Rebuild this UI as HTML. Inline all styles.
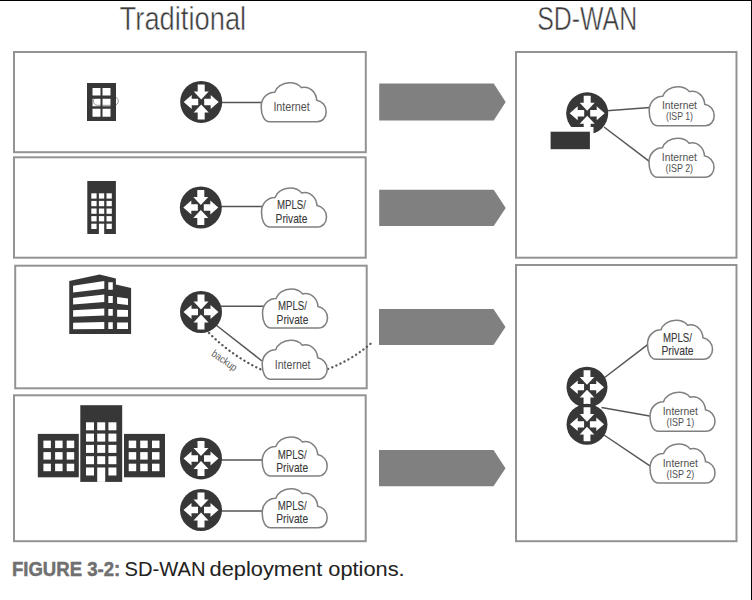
<!DOCTYPE html>
<html><head><meta charset="utf-8">
<style>
html,body{margin:0;padding:0;background:#fff;width:752px;height:600px;overflow:hidden}
svg{position:absolute;left:0;top:0;display:block}
text{font-family:"Liberation Sans",sans-serif}
</style></head>
<body>
<svg width="752" height="600" viewBox="0 0 752 600">
<defs>
<g id="rt"><circle r="21" fill="#373737"/><path fill="#fff" d="M-3.5,-17.5H3.5V-10.5H7.5L0,-2.5L-7.5,-10.5H-3.5Z M-3.5,17.5H3.5V10.5H7.5L0,2.5L-7.5,10.5H-3.5Z M-3,-3.25H-9.5V-7L-17.5,0L-9.5,7V3.25H-3Z M3,-3.25H9.5V-7L17.5,0L9.5,7V3.25H3Z"/></g>
<path id="cl" fill="#fff" stroke="#808080" stroke-width="1.55" d="M9,40H56.5C62,40 65.5,35.5 65.5,30C65.5,24 61.5,19.5 56,18.5C55.5,11 50,5.5 43.5,5.5C42.5,5.5 41.5,5.6 40.6,5.9C38,2.5 34,1 29,1C21.5,1 15.5,5.5 14,10.5C6.5,10.5 0.5,16.5 0.5,25C0.5,33.5 3.5,40 9,40Z"/>
<path id="ar" fill="#808080" d="M0,0H114.5L126.5,18.25L114.5,36.5H0Z"/>
</defs>
<rect x="0" y="0" width="752" height="1" fill="#000"/><rect x="751" y="0" width="1" height="600" fill="#000"/>
<text x="119.6" y="30" font-size="33" fill="#3c3c3c" stroke="#fff" stroke-width="0.5" textLength="126.6" lengthAdjust="spacingAndGlyphs">Traditional</text>
<text x="537.2" y="29.5" font-size="33" fill="#3c3c3c" stroke="#fff" stroke-width="0.5" textLength="100" lengthAdjust="spacingAndGlyphs">SD-WAN</text>
<g fill="none" stroke="#939393" stroke-width="2">
<rect x="14" y="52" width="351.8" height="100.2"/>
<rect x="14" y="157.3" width="351.7" height="100.4"/>
<rect x="15.2" y="265.7" width="351.5" height="122.6"/>
<rect x="14" y="395.3" width="351.7" height="145.9"/>
<rect x="516" y="52" width="220.5" height="205.7"/>
<rect x="516" y="265" width="220.5" height="276.2"/>
</g>
<use href="#ar" transform="translate(379.2,83.4) scale(1,1.019)"/>
<use href="#ar" transform="translate(379.2,189.7) scale(1,0.997)"/>
<use href="#ar" transform="translate(379,309.1) scale(1,0.983)"/>
<use href="#ar" transform="translate(379,450) scale(1,0.995)"/>
<g stroke="#555" stroke-width="1.5" fill="none">
<line x1="221" y1="102.6" x2="262" y2="102.6"/>
<line x1="221" y1="206.5" x2="262" y2="206.5"/>
<line x1="221" y1="306.2" x2="264" y2="306.2"/>
<line x1="216" y1="325" x2="262" y2="361"/>
<line x1="221" y1="460" x2="263" y2="460"/>
<line x1="221" y1="511" x2="263" y2="511"/>
<line x1="607" y1="110.8" x2="650" y2="107.6"/>
<line x1="604" y1="127" x2="650" y2="161.8"/>
<line x1="604" y1="378" x2="648" y2="344.3"/>
<line x1="601.5" y1="407.5" x2="651" y2="416.2"/>
<line x1="604" y1="435" x2="651" y2="466.7"/>
</g>
<g stroke="#5a5a5a" stroke-width="2.3" fill="none" stroke-linecap="round" stroke-dasharray="0.2 4.3">
<path d="M209,333 Q232,356 262,370"/>
<path d="M328,369 Q352,360 372,342.5"/>
</g>
<use href="#rt" transform="translate(201.2,101.9) scale(1)"/>
<use href="#rt" transform="translate(200.8,207.5) scale(1)"/>
<use href="#rt" transform="translate(201,312) scale(1)"/>
<use href="#rt" transform="translate(201,458.4) scale(1)"/>
<use href="#rt" transform="translate(201,510) scale(1)"/>
<use href="#rt" transform="translate(587.2,113.3) scale(1)"/>
<use href="#rt" transform="translate(587,387.2) scale(0.975)"/>
<use href="#rt" transform="translate(587,424.3) scale(0.975)"/>
<rect x="547" y="127" width="46.5" height="26" fill="#fff"/><rect x="550.6" y="131.7" width="39.3" height="17.5" fill="#373737"/>
<use href="#cl" x="260.7" y="81.7"/>
<use href="#cl" x="261.0" y="187.0"/>
<use href="#cl" x="262.0" y="288.0"/>
<use href="#cl" x="261.7" y="339.3"/>
<use href="#cl" x="261.7" y="436.0"/>
<use href="#cl" x="261.7" y="487.7"/>
<use href="#cl" x="648.7" y="85.7"/>
<use href="#cl" x="648.5" y="137.3"/>
<use href="#cl" x="647.0" y="319.3"/>
<use href="#cl" x="649.5" y="391.3"/>
<use href="#cl" x="649.5" y="443.0"/>
<g fill="#505050">
<text x="273.40" y="110.90" font-size="12.3" textLength="36.4" lengthAdjust="spacingAndGlyphs">Internet</text>
</g>
<g fill="#383838" stroke="#383838" stroke-width="0.1">
<text x="277.00" y="209.40" font-size="12.8" textLength="29.0" lengthAdjust="spacingAndGlyphs">MPLS/</text>
<text x="275.60" y="222.90" font-size="12.8" textLength="31.8" lengthAdjust="spacingAndGlyphs">Private</text>
</g>
<g fill="#383838" stroke="#383838" stroke-width="0.1">
<text x="278.00" y="310.10" font-size="12.8" textLength="29.0" lengthAdjust="spacingAndGlyphs">MPLS/</text>
<text x="276.60" y="323.70" font-size="12.8" textLength="31.8" lengthAdjust="spacingAndGlyphs">Private</text>
</g>
<g fill="#505050">
<text x="274.85" y="368.90" font-size="12.3" textLength="35.7" lengthAdjust="spacingAndGlyphs">Internet</text>
</g>
<g fill="#383838" stroke="#383838" stroke-width="0.1">
<text x="277.70" y="458.70" font-size="12.8" textLength="29.0" lengthAdjust="spacingAndGlyphs">MPLS/</text>
<text x="276.30" y="471.70" font-size="12.8" textLength="31.8" lengthAdjust="spacingAndGlyphs">Private</text>
</g>
<g fill="#383838" stroke="#383838" stroke-width="0.1">
<text x="277.70" y="510.10" font-size="12.8" textLength="29.0" lengthAdjust="spacingAndGlyphs">MPLS/</text>
<text x="276.30" y="523.10" font-size="12.8" textLength="31.8" lengthAdjust="spacingAndGlyphs">Private</text>
</g>
<g fill="#505050">
<text x="662.00" y="109.40" font-size="11.8" textLength="35.0" lengthAdjust="spacingAndGlyphs">Internet</text>
<text x="666.00" y="120.40" font-size="11.8" textLength="27.0" lengthAdjust="spacingAndGlyphs">(ISP 1)</text>
</g>
<g fill="#505050">
<text x="661.80" y="161.10" font-size="11.8" textLength="35.0" lengthAdjust="spacingAndGlyphs">Internet</text>
<text x="665.55" y="172.10" font-size="11.8" textLength="27.5" lengthAdjust="spacingAndGlyphs">(ISP 2)</text>
</g>
<g fill="#383838" stroke="#383838" stroke-width="0.1">
<text x="663.00" y="341.90" font-size="12.8" textLength="29.0" lengthAdjust="spacingAndGlyphs">MPLS/</text>
<text x="661.45" y="355.40" font-size="12.8" textLength="32.1" lengthAdjust="spacingAndGlyphs">Private</text>
</g>
<g fill="#505050">
<text x="662.75" y="414.90" font-size="11.8" textLength="35.1" lengthAdjust="spacingAndGlyphs">Internet</text>
<text x="666.45" y="426.10" font-size="11.8" textLength="27.7" lengthAdjust="spacingAndGlyphs">(ISP 1)</text>
</g>
<g fill="#505050">
<text x="662.75" y="466.60" font-size="11.8" textLength="35.1" lengthAdjust="spacingAndGlyphs">Internet</text>
<text x="666.45" y="477.90" font-size="11.8" textLength="27.7" lengthAdjust="spacingAndGlyphs">(ISP 2)</text>
</g>
<text x="0" y="0" font-size="10.5" fill="#5a5a5a" textLength="28.5" lengthAdjust="spacingAndGlyphs" transform="translate(210.8,355.2) rotate(35)">backup</text>
<!-- buildings -->
<g fill="#373737">
<rect x="87.3" y="181" width="28.6" height="53"/>
<rect x="80.3" y="405.2" width="41.9" height="76.7"/>
<rect x="37.8" y="433.9" width="41" height="43.4"/>
<rect x="124" y="433.9" width="41" height="43.4"/>
</g>
<rect x="93.3" y="96.9" width="25" height="8.4" rx="4.2" fill="none" stroke="#8a8a8a" stroke-width="0.9"/>
<path fill="#373737" fill-rule="evenodd" d="M87,83h29v38h-29z M92.5,88h8v7.5h-8z M102.5,88h8v7.5h-8z M92.5,98.7h8v7.5h-8z M102.5,98.7h8v7.5h-8z M92.5,108.8h8v8h-8z M102.5,108.8h8v8h-8z"/>

<g fill="#fff">
<!-- b2 windows -->
<rect x="91.3" y="193.3" width="5.3" height="5.3"/><rect x="98.9" y="193.3" width="5.3" height="5.3"/><rect x="106.5" y="193.3" width="5.3" height="5.3"/>
<rect x="91.3" y="200.9" width="5.3" height="5.3"/><rect x="98.9" y="200.9" width="5.3" height="5.3"/><rect x="106.5" y="200.9" width="5.3" height="5.3"/>
<rect x="91.3" y="208.5" width="5.3" height="5.3"/><rect x="98.9" y="208.5" width="5.3" height="5.3"/><rect x="106.5" y="208.5" width="5.3" height="5.3"/>
<rect x="91.3" y="216.1" width="5.3" height="5.3"/><rect x="98.9" y="216.1" width="5.3" height="5.3"/><rect x="106.5" y="216.1" width="5.3" height="5.3"/>
<rect x="91.3" y="223.7" width="5.3" height="5.3"/><rect x="98.9" y="223.7" width="5.3" height="10.3"/><rect x="106.5" y="223.7" width="5.3" height="5.3"/>
<!-- b4 center tower -->
<rect x="86" y="422.3" width="8" height="8"/><rect x="97.2" y="422.3" width="8" height="8"/><rect x="108.4" y="422.3" width="8" height="8"/>
<rect x="86" y="433.6" width="8" height="8"/><rect x="97.2" y="433.6" width="8" height="8"/><rect x="108.4" y="433.6" width="8" height="8"/>
<rect x="86" y="444.9" width="8" height="8"/><rect x="97.2" y="444.9" width="8" height="8"/><rect x="108.4" y="444.9" width="8" height="8"/>
<rect x="86" y="456.2" width="8" height="8"/><rect x="97.2" y="456.2" width="8" height="8"/><rect x="108.4" y="456.2" width="8" height="8"/>
<rect x="86" y="467.5" width="8" height="8"/><rect x="97.2" y="467.5" width="8" height="14.4"/><rect x="108.4" y="467.5" width="8" height="8"/>
<!-- b4 wings -->
<rect x="43.4" y="440.6" width="7.5" height="7.5"/><rect x="55.1" y="440.6" width="7.5" height="7.5"/><rect x="66.7" y="440.6" width="7.5" height="7.5"/>
<rect x="43.4" y="452.1" width="7.5" height="7.5"/><rect x="55.1" y="452.1" width="7.5" height="7.5"/><rect x="66.7" y="452.1" width="7.5" height="7.5"/>
<rect x="43.4" y="463.7" width="7.5" height="7.5"/><rect x="55.1" y="463.7" width="7.5" height="7.5"/><rect x="66.7" y="463.7" width="7.5" height="7.5"/>
<rect x="128.7" y="440.6" width="7.5" height="7.5"/><rect x="140.2" y="440.6" width="7.5" height="7.5"/><rect x="152" y="440.6" width="7.5" height="7.5"/>
<rect x="128.7" y="452.1" width="7.5" height="7.5"/><rect x="140.2" y="452.1" width="7.5" height="7.5"/><rect x="152" y="452.1" width="7.5" height="7.5"/>
<rect x="128.7" y="463.7" width="7.5" height="7.5"/><rect x="140.2" y="463.7" width="7.5" height="7.5"/><rect x="152" y="463.7" width="7.5" height="7.5"/>
</g>
<!-- b3 -->
<path fill="#373737" d="M69.25,281.1L99.6,274.4L115.9,278.4V284.6L131.1,288.1V334H69.25Z"/>
<path fill="#fff" d="M73.1,285.75L104.3,281.1V288.7L73.1,292.4Z M73.1,298L104.3,294.5V302.1L73.1,304.4Z M73.1,310.3L104.3,308.5V315.5L73.1,316.7Z M73.1,322.7L104.3,321.9V328.9L73.1,329.3Z
M108.3,282.3H112.8V289.8H108.3Z M108.3,295.9H112.8V302.9H108.3Z M108.3,309.1H112.8V315.7H108.3Z M108.3,322.3H112.8V328.9H108.3Z
M117.1,297.1L128,298.6V305L117.1,303.8Z M117.1,309.7L128,309.9V316.7H117.1Z M117.1,322.5H128V328.9H117.1Z"/>

<text x="11.9" y="575.7" font-size="19.4" font-weight="bold" fill="#707070" stroke="#707070" stroke-width="0.45" textLength="108.4" lengthAdjust="spacingAndGlyphs">FIGURE 3-2:</text>
<text x="124.6" y="575.9" font-size="19.6" fill="#222" stroke="#222" stroke-width="0.05" textLength="81" lengthAdjust="spacingAndGlyphs">SD-WAN</text>
<text x="209.6" y="575.9" font-size="19.6" fill="#222" stroke="#222" stroke-width="0.05" textLength="195" lengthAdjust="spacingAndGlyphs">deployment options.</text>
</svg>
</body></html>
